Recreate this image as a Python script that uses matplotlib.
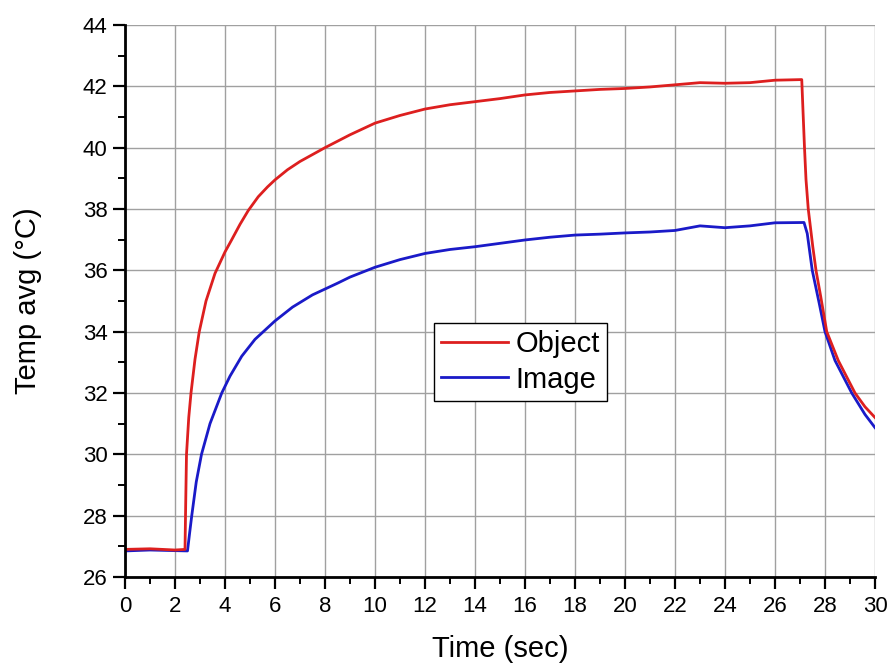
import numpy as np
import matplotlib
matplotlib.use('Agg')
import matplotlib.pyplot as plt
from matplotlib.ticker import MultipleLocator

# values
obj_time = [0, 1, 2, 2.4, 2.43, 2.46, 2.55, 2.64, 2.8, 2.97, 3.24, 3.6, 4.0, 4.27, 4.6, 4.93,
            5.33, 5.7, 6.0, 6.5, 7.0, 8.0, 9.0, 10, 11, 12, 13, 14, 15, 16, 17, 18, 19, 20,
            21, 22, 23, 24, 25, 26, 27.07, 27.12, 27.18, 27.24, 27.33, 27.51, 27.64, 27.83,
            28.07, 28.53, 29.2, 29.6, 30]
obj_temp = [26.9, 26.92, 26.88, 26.9, 28.5, 30.0, 31.2, 32.0, 33.1, 34.0, 35.0, 35.9, 36.6,
            37.0, 37.5, 37.95, 38.4, 38.72, 38.95, 39.28, 39.55, 40.0, 40.42, 40.8, 41.05, 41.26,
            41.4, 41.5, 41.6, 41.72, 41.8, 41.85, 41.9, 41.93, 41.98, 42.05, 42.12, 42.1, 42.12,
            42.2, 42.22, 41.2, 40.0, 38.96, 38.0, 36.78, 36.0, 35.14, 34.0, 33.06, 32.0,
            31.55, 31.2]

img_time = [0, 1, 2, 2.5, 2.58, 2.67, 2.85, 3.06, 3.4, 3.87, 4.2, 4.67, 5.2, 5.6, 6.0, 6.7,
            7.5, 8.5, 9.0, 10, 11, 12, 13, 14, 15, 16, 17, 18, 19, 20, 21, 22, 23, 24, 25, 26,
            27.16, 27.29, 27.49, 27.77, 28.0, 28.4, 29.07, 29.6, 30]
img_temp = [26.85, 26.88, 26.86, 26.85, 27.4, 28.0, 29.1, 30.0, 31.0, 32.0, 32.55, 33.2, 33.75,
            34.05, 34.35, 34.8, 35.2, 35.58, 35.78, 36.1, 36.35, 36.55, 36.68, 36.77, 36.88,
            36.99, 37.08, 37.15, 37.18, 37.22, 37.25, 37.3, 37.45, 37.39, 37.45, 37.55, 37.56,
            37.2, 36.0, 34.92, 34.0, 33.06, 32.0, 31.3, 30.87]

plt.rcParams['font.family'] = ['Liberation Sans', 'DejaVu Sans']

fig = plt.figure(figsize=(8.89, 6.66), dpi=100)
ax = fig.add_axes([125 / 889, 1 - 577 / 666, 750 / 889, 552 / 666])

ax.plot(img_time, img_temp, color='#1a1ac8', lw=2, label='Image')
ax.plot(obj_time, obj_temp, color='#dd1f1f', lw=2, label='Object')

ax.set_xlim(0, 30)
ax.set_ylim(26, 44)
ax.xaxis.set_major_locator(MultipleLocator(2))
ax.xaxis.set_minor_locator(MultipleLocator(1))
ax.yaxis.set_major_locator(MultipleLocator(2))
ax.yaxis.set_minor_locator(MultipleLocator(1))

ax.grid(True, which='major', color='#a0a0a0', lw=1)
ax.set_axisbelow(True)
for side in ['top', 'right']:
    ax.spines[side].set_visible(False)
for side in ['left', 'bottom']:
    ax.spines[side].set_linewidth(2)
ax.tick_params(which='major', direction='out', length=8.5, width=1.6, labelsize=16)
ax.tick_params(axis='x', which='major', pad=5)
ax.tick_params(axis='y', which='major', pad=4)
ax.tick_params(which='minor', direction='out', length=4.7, width=1.4)

ax.set_xlabel('Time (sec)', fontsize=21)
ax.set_ylabel('Temp avg (°C)', fontsize=21)
ax.xaxis.set_label_coords(0.5, -0.105)
ax.yaxis.set_label_coords(-0.111, 0.5)

handles, labels = ax.get_legend_handles_labels()
leg = ax.legend(handles[::-1], labels[::-1], loc='upper left',
                bbox_to_anchor=(434 / 889, 1 - 323 / 666),
                bbox_transform=fig.transFigure, fontsize=21, fancybox=False,
                edgecolor='black', framealpha=1, handlelength=2.3, borderpad=0.25,
                borderaxespad=0, labelspacing=0.25, handletextpad=0.25)
leg.get_frame().set_linewidth(1)

fig.savefig('out.png', dpi=100)
